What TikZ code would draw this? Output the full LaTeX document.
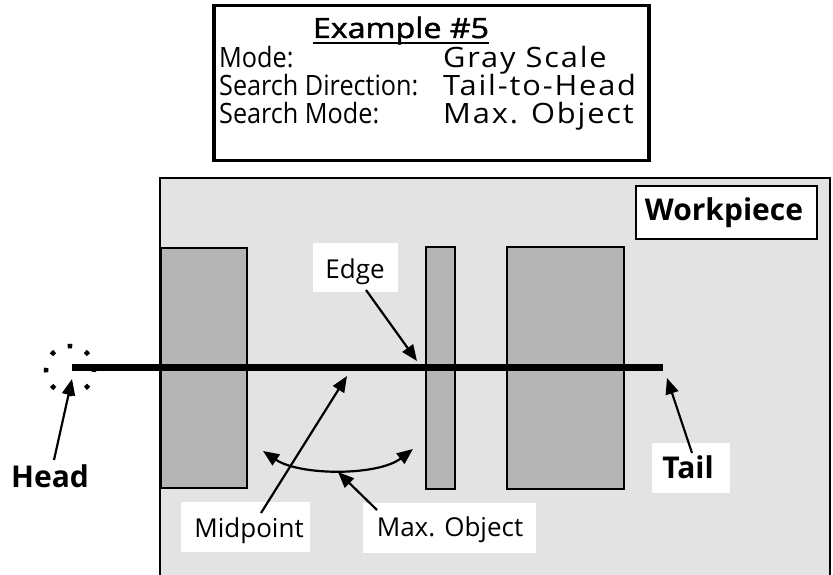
\documentclass[tikz,border=0pt]{standalone}
\usepackage{graphicx}
\usepackage{fontspec}
\setmainfont{Open Sans}
\newfontfamily\semib[FakeBold=1.6]{Open Sans}
\newfontfamily\widesans[LetterSpace=6]{Open Sans}
\usetikzlibrary{arrows.meta}
\newcommand{\lcol}[1]{\scalebox{0.9}[1]{#1}}
\newcommand{\rcol}[1]{\scalebox{1.1}[1]{\widesans #1}}
\begin{document}
\begin{tikzpicture}[x=1pt,y=-1pt,
  txt/.style={inner sep=0pt,font=\fontsize{28}{32}\selectfont},
  lbl/.style={inner sep=0pt,font=\fontsize{26}{30}\selectfont},
  bigtxt/.style={inner sep=0pt,font=\fontsize{30}{34}\selectfont\bfseries},
  wbox/.style={fill=white,draw=none,inner sep=0pt},
  part/.style={fill=gray!58,draw=black,line width=1.6pt},
  ptr/.style={line width=2.2pt,-{Triangle[length=16pt,width=13pt]}},
  darrow/.style={line width=2.2pt,{Triangle[length=16pt,width=13pt]}-{Triangle[length=16pt,width=13pt]}}]
\useasboundingbox (0,0) rectangle (833,575);
% title box
\node[draw=black,line width=3.5pt,minimum width=435pt,minimum height=155pt,anchor=north west,inner sep=0pt] (titlebox) at (212,4) {};
\node[inner sep=0pt,anchor=base,font=\fontsize{28}{32}\semib] (ttl) at (401,38) {\scalebox{1.15}[1]{Example \#5}};
\draw[line width=1.8pt] (ttl.base west) ++(0,5) coordinate (ul1) -- (ttl.base east |- ul1);
\node[txt,anchor=base west] (l1) at (219,68) {\lcol{Mode:}};
\node[txt,anchor=base west] (l2) at (219,96) {\lcol{Search Direction:}};
\node[txt,anchor=base west] (l3) at (219,124) {\lcol{Search Mode:}};
\node[txt,anchor=base west] (r1) at (443,68) {\rcol{Gray Scale}};
\node[txt,anchor=base west] (r2) at (443,96) {\rcol{Tail-to-Head}};
\node[txt,anchor=base west] (r3) at (443,124) {\rcol{Max. Object}};
% workpiece
\fill[gray!22] (160,178) rectangle (830,576);
\draw[line width=1.8pt] (160,576) -- (160,178) -- (830,178) -- (830,576);
\node[draw=black,fill=white,line width=1.8pt,minimum width=181pt,minimum height=53pt,anchor=north west,inner sep=0pt] (wpbox) at (635,185) {};
\node[bigtxt,anchor=base] (wp) at (724,220) {Workpiece};
% parts
\draw[part] (161,248) rectangle (247,488);
\draw[part] (426,247) rectangle (455,489);
\draw[part] (507,247) rectangle (624,489);
% search line
\coordinate (hd) at (72,367);
\coordinate (tl) at (663,367);
\draw[line width=7pt] (hd) -- (tl);
% head circle
\node[circle,minimum size=48pt,inner sep=0pt,draw=black,line width=4.5pt,dash pattern=on 4.5pt off 14.35pt,dash phase=2.25pt] (hc) at (70,370) {};
% labels
\node[wbox,minimum width=85pt,minimum height=49pt] (edgebox) at (355.5,267.5) {};
\node[lbl,anchor=base] (edge) at (355,278) {Edge};
\node[wbox,minimum width=129pt,minimum height=50pt] (midbox) at (245.5,527) {};
\node[lbl,anchor=base] (mid) at (249,537) {Midpoint};
\node[wbox,minimum width=173pt,minimum height=50pt] (maxbox) at (449.5,528) {};
\node[lbl,anchor=base] (maxo) at (450,536) {Max. Object};
\node[wbox,minimum width=78pt,minimum height=50pt] (tailbox) at (691,468) {};
\node[bigtxt,anchor=base] (tail) at (688,478) {Tail};
\node[bigtxt,anchor=base] (head) at (50,487) {Head};
% arrow endpoints
\coordinate (headA) at (54,460);
\coordinate (headB) at (72,379);
\coordinate (edgeA) at (366,290);
\coordinate (edgeB) at (417,361);
\coordinate (tailA) at (692,453);
\coordinate (tailB) at (667,378);
\coordinate (midA) at (261,513);
\coordinate (midB) at (347,376);
\coordinate (maxA) at (377,510);
\coordinate (maxB) at (338,472);
\coordinate (arcL) at (263,451);
\coordinate (arcR) at (413,449);
\draw[ptr] (headA) -- (headB);
\draw[ptr] (edgeA) -- (edgeB);
\draw[ptr] (tailA) -- (tailB);
\draw[ptr] (midA) -- (midB);
\draw[darrow] (arcL) .. controls (300,476) and (378,476) .. (arcR);
\draw[ptr] (maxA) -- (maxB);
\end{tikzpicture}
\end{document}
